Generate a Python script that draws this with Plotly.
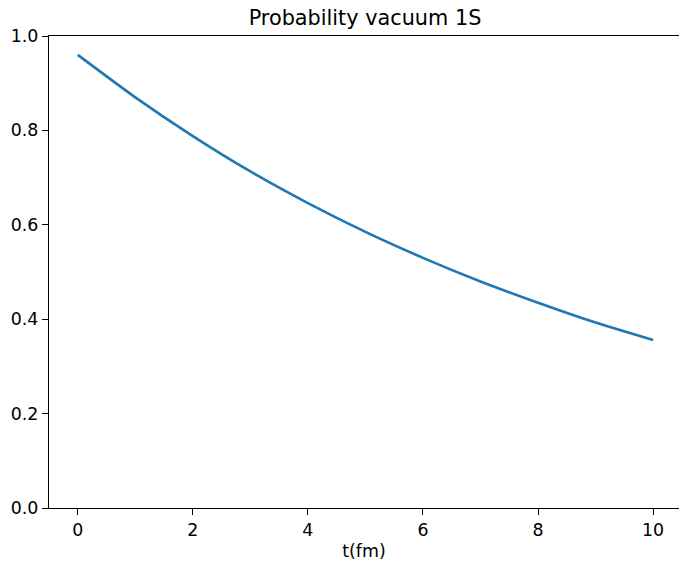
import plotly.graph_objects as go

t_fm = [0, 1, 2, 3, 4, 5, 6, 7, 8, 9, 10]
prob_vacuum_1s = [0.960, 0.870, 0.788, 0.713, 0.646, 0.585, 0.530, 0.480, 0.435, 0.393, 0.356]

x_ticks = [0, 2, 4, 6, 8, 10]
y_ticks = [0.0, 0.2, 0.4, 0.6, 0.8, 1.0]
y_tick_text = ["0.0", "0.2", "0.4", "0.6", "0.8", "1.0"]

fig = go.Figure()
fig.add_trace(go.Scatter(
    x=t_fm, y=prob_vacuum_1s, mode="lines",
    line=dict(color="#1f77b4", width=2.6, shape="spline", smoothing=0.6),
    showlegend=False,
))

font = dict(family="DejaVu Sans", size=17.4, color="black")
fig.update_layout(
    width=679, height=561,
    margin=dict(l=49, r=0, t=36, b=53, autoexpand=False),
    paper_bgcolor="white", plot_bgcolor="white",
    font=font,
    title=dict(text="Probability vacuum 1S", x=(49 + 681) / 2 / 679, xanchor="center",
               y=1 - 18 / 561, yanchor="middle", yref="container",
               font=dict(family="DejaVu Sans", size=20.8, color="black")),
)
fig.update_xaxes(
    range=[-0.5, 10.45], tickvals=x_ticks, ticktext=[str(v) for v in x_ticks],
    showgrid=False, zeroline=False,
    showline=True, linecolor="black", linewidth=1.4, mirror=True,
    ticks="outside", ticklen=6, tickwidth=1.4, tickcolor="black",
    tickfont=font, automargin=False,
    title=dict(text="t(fm)", font=font, standoff=6),
)
fig.update_yaxes(
    range=[0, 1], tickvals=y_ticks, ticktext=y_tick_text,
    showgrid=False, zeroline=False,
    showline=True, linecolor="black", linewidth=1.4, mirror=False,
    ticks="outside", ticklen=6, tickwidth=1.4, tickcolor="black",
    tickfont=font, automargin=False,
)

fig.write_html("out.html")
